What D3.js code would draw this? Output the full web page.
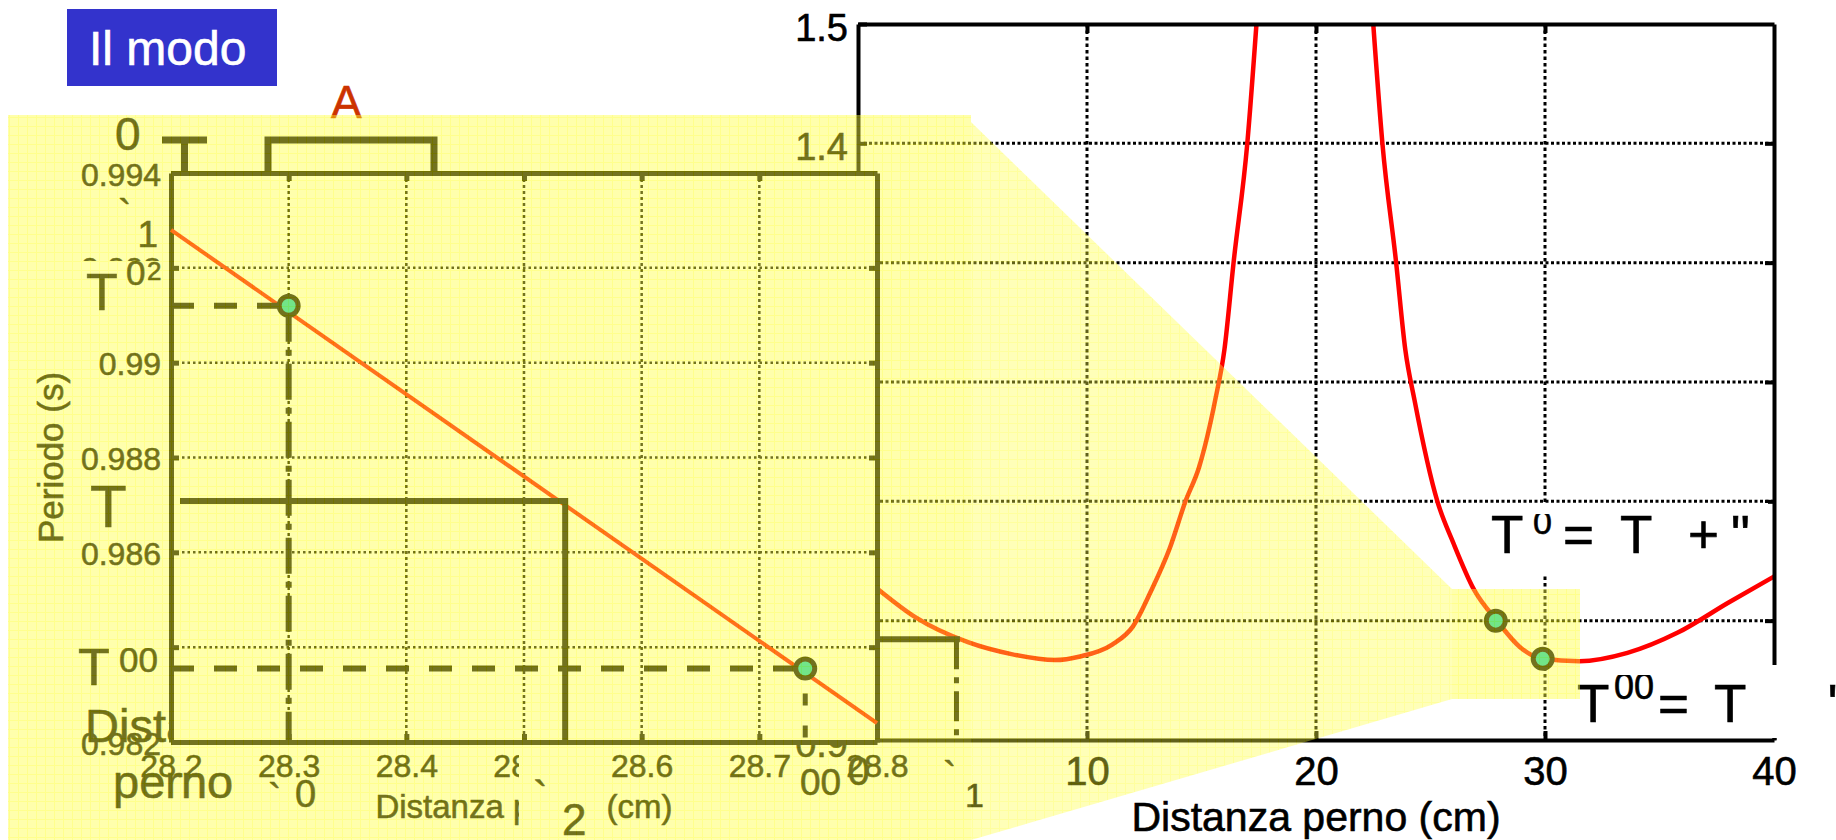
<!DOCTYPE html>
<html>
<head>
<meta charset="utf-8">
<script src="https://cdn.jsdelivr.net/npm/d3@7"></script>
<style>
  body { margin: 0; background: #fff; }
  svg { display: block; }
  text { font-family: "Liberation Sans", Arial, sans-serif; }
</style>
</head>
<body>
<div class="slide"></div>
<script>
// period of the pendulum vs pivot distance
var leftDist   = [0.9, 2.5, 4.8, 6.7, 8.6, 9.7, 11.1, 12.0, 12.8, 13.6, 14.3, 14.9, 15.6, 16.0, 16.4, 17.0, 17.4];
var leftPeriod = [1.026, 1.003, 0.982, 0.972, 0.967, 0.970, 0.980, 0.995, 1.025, 1.060, 1.100, 1.129, 1.185, 1.227, 1.300, 1.400, 1.500];
var rightDist   = [22.5, 22.9, 23.5, 23.9, 24.3, 25.3, 26.0, 26.9, 27.9, 28.9, 29.9, 31.5, 33.6, 35.8, 38.0, 40.0];
var rightPeriod = [1.500, 1.400, 1.300, 1.227, 1.185, 1.100, 1.065, 1.026, 1.000, 0.978, 0.968, 0.966, 0.973, 0.990, 1.015, 1.037];

var mainPointDist   = [27.85, 29.9];
var mainPointPeriod = [1.0, 0.968];
var ell1Dist = 4.3, ell1Period = 0.9845;

var mainXTicks = [0, 10, 20, 30, 40];
var mainYTicks = [0.9, 1.0, 1.1, 1.2, 1.3, 1.4, 1.5];

// zoomed inset
var insetXTicks = [28.2, 28.3, 28.4, 28.5, 28.6, 28.7, 28.8];
var insetYTicks = [0.982, 0.984, 0.986, 0.988, 0.99, 0.992, 0.994];
var insetLineDist   = [28.2, 28.8];
var insetLinePeriod = [0.9928, 0.9824];
var insetPointDist   = [28.3, 28.739];
var insetPointPeriod = [0.9912, 0.98355];
var levelDist = 28.535, levelPeriod = 0.98708;

var W = 1836, H = 840;
var INK = '#000', RED = '#ff0000', DOT = '#00d0c0';
var FONT = '"Liberation Sans", Arial, sans-serif';

var svg = d3.select('.slide').append('svg')
  .attr('width', W)
  .attr('height', H);
svg.append('rect').attr('width', W).attr('height', H).attr('fill', '#fff');

var defs = svg.append('defs');
var mesh = defs.append('pattern')
  .attr('id', 'mesh')
  .attr('patternUnits', 'userSpaceOnUse')
  .attr('width', 9).attr('height', 9);
mesh.append('rect').attr('width', 9).attr('height', 9).attr('fill', 'rgb(255,255,70)');
mesh.append('path').attr('d', 'M0,0.5H9M0.5,0V9')
  .attr('stroke', 'rgb(255,255,0)').attr('stroke-width', 1);

function clip(id, x, y, w, h) {
  defs.append('clipPath').attr('id', id)
    .append('rect').attr('x', x).attr('y', y).attr('width', w).attr('height', h);
  return 'url(#' + id + ')';
}

function label(g, x, y, s, size, anchor, color) {
  color = color || INK;
  return g.append('text')
    .attr('x', x).attr('y', y)
    .attr('font-size', size)
    .attr('text-anchor', anchor || 'start')
    .attr('fill', color)
    .attr('stroke', color).attr('stroke-width', 0.6)
    .text(s);
}

function box(g, x, y, w, h) {
  return g.append('rect').attr('x', x).attr('y', y)
    .attr('width', w).attr('height', h).attr('fill', '#fff');
}

function styleAxis(a, width) {
  a.select('.domain').attr('stroke', INK).attr('stroke-width', width);
  a.selectAll('.tick line').attr('stroke', INK).attr('stroke-width', width);
  a.selectAll('text').attr('fill', INK).attr('font-family', FONT)
    .attr('stroke', INK).attr('stroke-width', 0.6);
}

// title box
svg.append('rect').attr('x', 67).attr('y', 9).attr('width', 210).attr('height', 77).attr('fill', '#3333cc');
label(svg, 89, 65, 'Il modo', 48, 'start', '#fff');
label(svg, 331, 118, 'A', 46, 'start', '#cc3300');

/* ---------------- main chart ---------------- */
var x = d3.scaleLinear().domain([0, 40]).range([858, 1774]);
var y = d3.scaleLinear().domain([0.9, 1.5]).range([740, 24]);
var main = svg.append('g').attr('class', 'main');

main.selectAll('.hgrid').data(mainYTicks.slice(1, -1)).enter().append('line')
  .attr('x1', x(0)).attr('x2', x(40))
  .attr('y1', function(d) { return y(d); })
  .attr('y2', function(d) { return y(d); })
  .attr('stroke', INK).attr('stroke-width', 3).attr('stroke-dasharray', '3,2.5');
main.selectAll('.vgrid').data(mainXTicks.slice(1, -1)).enter().append('line')
  .attr('y1', y(1.5)).attr('y2', y(0.9))
  .attr('x1', function(d) { return x(d); })
  .attr('x2', function(d) { return x(d); })
  .attr('stroke', INK).attr('stroke-width', 3).attr('stroke-dasharray', '3.5,3');

var curve = d3.line()
  .x(function(d) { return x(d[0]); })
  .y(function(d) { return y(d[1]); })
  .curve(d3.curveMonotoneX);
[d3.zip(leftDist, leftPeriod), d3.zip(rightDist, rightPeriod)].forEach(function(branch) {
  main.append('path').attr('d', curve(branch))
    .attr('fill', 'none').attr('stroke', RED).attr('stroke-width', 4.5);
});

// level T'' reaching the left branch
main.append('line')
  .attr('x1', x(0)).attr('x2', x(ell1Dist + 0.15))
  .attr('y1', y(ell1Period)).attr('y2', y(ell1Period))
  .attr('stroke', INK).attr('stroke-width', 6);
main.append('line')
  .attr('x1', x(ell1Dist)).attr('x2', x(ell1Dist))
  .attr('y1', y(ell1Period)).attr('y2', y(0.9))
  .attr('stroke', INK).attr('stroke-width', 5).attr('stroke-dasharray', '30,8,6,8');

var axBottom = main.append('g').attr('transform', 'translate(0,' + y(0.9) + ')')
  .call(d3.axisBottom(x).tickValues(mainXTicks).tickSizeInner(-9).tickSizeOuter(0));
axBottom.selectAll('text').attr('y', 45).attr('dy', null).attr('font-size', 40);
var axLeft = main.append('g').attr('transform', 'translate(' + x(0) + ',0)')
  .call(d3.axisLeft(y).tickValues(mainYTicks).tickFormat(d3.format('~g')).tickSizeInner(-9).tickSizeOuter(0));
axLeft.selectAll('text').attr('x', -10).attr('dy', null).attr('y', 16).attr('font-size', 38);
var axTop = main.append('g').attr('transform', 'translate(0,' + y(1.5) + ')')
  .call(d3.axisTop(x).tickValues(mainXTicks.slice(1, -1)).tickFormat('').tickSizeInner(-9).tickSizeOuter(0));
var axRight = main.append('g').attr('transform', 'translate(' + x(40) + ',0)')
  .call(d3.axisRight(y).tickValues(mainYTicks.slice(1, -1)).tickFormat('').tickSizeInner(-9).tickSizeOuter(0));
[axBottom, axLeft, axTop, axRight].forEach(function(a) { styleAxis(a, 4); });

label(main, (x(0) + x(40)) / 2, 831, 'Distanza perno (cm)', 41, 'middle');

main.selectAll('.pt').data(d3.zip(mainPointDist, mainPointPeriod)).enter().append('circle')
  .attr('cx', function(d) { return x(d[0]); })
  .attr('cy', function(d) { return y(d[1]); })
  .attr('r', 9.5)
  .attr('fill', DOT).attr('stroke', INK).attr('stroke-width', 5);

label(main, 943, 790, '`', 40);
label(main, 965, 807, '1', 34);

// annotation T' = T + e
box(main, 1485, 503, 283, 72);
label(main, 1491, 553, 'T', 53);
label(main, 1533, 534, '0', 34).attr('clip-path', clip('c1', 1520, 514, 50, 40));
label(main, 1563, 553, '=', 53);
label(main, 1620, 553, 'T', 53);
label(main, 1688, 553, '+', 53);
label(main, 1731, 553, '"', 53);

// annotation T'' = T  e
box(main, 1558, 665, 278, 73);
label(main, 1577, 722, 'T', 53);
label(main, 1614, 699, '00', 36).attr('clip-path', clip('c2', 1600, 675, 70, 40));
label(main, 1658, 722, '=', 53);
label(main, 1714, 722, 'T', 53);
label(main, 1828, 722, '"', 53);

/* ---------------- zoomed inset ---------------- */
var ix = d3.scaleLinear().domain([28.2, 28.8]).range([171, 877]);
var iy = d3.scaleLinear().domain([0.982, 0.994]).range([742, 173]);
var inset = svg.append('g').attr('class', 'inset');

label(inset, 85, 742, 'Distanza', 47);
label(inset, 113, 798, 'perno', 47);

inset.append('rect').attr('x', ix(28.2)).attr('y', iy(0.994))
  .attr('width', ix(28.8) - ix(28.2)).attr('height', iy(0.982) - iy(0.994))
  .attr('fill', '#fff');

inset.selectAll('.hgrid').data(insetYTicks.slice(1, -1)).enter().append('line')
  .attr('x1', ix(28.2)).attr('x2', ix(28.8))
  .attr('y1', function(d) { return iy(d); })
  .attr('y2', function(d) { return iy(d); })
  .attr('stroke', INK).attr('stroke-width', 2.5).attr('stroke-dasharray', '2.5,3');
inset.selectAll('.vgrid').data(insetXTicks.slice(1, -1)).enter().append('line')
  .attr('y1', iy(0.994)).attr('y2', iy(0.982))
  .attr('x1', function(d) { return ix(d); })
  .attr('x2', function(d) { return ix(d); })
  .attr('stroke', INK).attr('stroke-width', 2.5).attr('stroke-dasharray', '3,3');

var iBottom = inset.append('g').attr('transform', 'translate(0,' + iy(0.982) + ')')
  .call(d3.axisBottom(ix).tickValues(insetXTicks).tickFormat(d3.format('.1f')).tickSizeInner(-8).tickSizeOuter(0));
iBottom.selectAll('text').attr('y', 35).attr('dy', null).attr('font-size', 32);
var iLeft = inset.append('g').attr('transform', 'translate(' + ix(28.2) + ',0)')
  .call(d3.axisLeft(iy).tickValues(insetYTicks).tickFormat(d3.format('~g')).tickSizeInner(-8).tickSizeOuter(0));
iLeft.selectAll('text').attr('x', -10).attr('y', 12).attr('dy', null).attr('font-size', 32);
var iTop = inset.append('g').attr('transform', 'translate(0,' + iy(0.994) + ')')
  .call(d3.axisTop(ix).tickValues(insetXTicks.slice(1, -1)).tickFormat('').tickSizeInner(-8).tickSizeOuter(0));
var iRight = inset.append('g').attr('transform', 'translate(' + ix(28.8) + ',0)')
  .call(d3.axisRight(iy).tickValues(insetYTicks.slice(1, -1)).tickFormat('').tickSizeInner(-8).tickSizeOuter(0));
[iBottom, iLeft, iTop, iRight].forEach(function(a) { styleAxis(a, 5); });

label(inset, (ix(28.2) + ix(28.8)) / 2, 818, 'Distanza perno (cm)', 33, 'middle');
inset.append('text')
  .attr('transform', 'translate(63,' + (iy(0.982) + iy(0.994)) / 2 + ') rotate(-90)')
  .attr('text-anchor', 'middle').attr('font-size', 35)
  .attr('fill', INK).attr('stroke', INK).attr('stroke-width', 0.6)
  .text('Periodo (s)');

var iline = d3.line()
  .x(function(d) { return ix(d[0]); })
  .y(function(d) { return iy(d[1]); });
inset.append('path').attr('d', iline(d3.zip(insetLineDist, insetLinePeriod)))
  .attr('fill', 'none').attr('stroke', RED).attr('stroke-width', 4);

// T' and T'' read back on the axes
inset.append('line')
  .attr('x1', ix(28.2)).attr('x2', ix(insetPointDist[0]))
  .attr('y1', iy(insetPointPeriod[0])).attr('y2', iy(insetPointPeriod[0]))
  .attr('stroke', INK).attr('stroke-width', 6).attr('stroke-dasharray', '23,20');
inset.append('line')
  .attr('x1', ix(28.2)).attr('x2', ix(insetPointDist[1]))
  .attr('y1', iy(insetPointPeriod[1])).attr('y2', iy(insetPointPeriod[1]))
  .attr('stroke', INK).attr('stroke-width', 6).attr('stroke-dasharray', '23,20');
inset.append('line')
  .attr('x1', ix(insetPointDist[0])).attr('x2', ix(insetPointDist[0]))
  .attr('y1', iy(insetPointPeriod[0])).attr('y2', iy(0.982))
  .attr('stroke', INK).attr('stroke-width', 6).attr('stroke-dasharray', '36,8,6,8');
inset.append('line')
  .attr('x1', ix(insetPointDist[1])).attr('x2', ix(insetPointDist[1]))
  .attr('y1', iy(insetPointPeriod[1]) + 25).attr('y2', iy(0.982))
  .attr('stroke', INK).attr('stroke-width', 5).attr('stroke-dasharray', '12,20');

// level T and its pivot distance
inset.append('path')
  .attr('d', 'M' + (ix(28.2) + 9) + ',' + iy(levelPeriod) + 'H' + ix(levelDist) + 'V' + iy(0.982))
  .attr('fill', 'none').attr('stroke', INK).attr('stroke-width', 6);

inset.selectAll('.pt').data(d3.zip(insetPointDist, insetPointPeriod)).enter().append('circle')
  .attr('cx', function(d) { return ix(d[0]); })
  .attr('cy', function(d) { return iy(d[1]); })
  .attr('r', 9.5)
  .attr('fill', DOT).attr('stroke', INK).attr('stroke-width', 5);

// broken equation fragments around the inset
inset.append('path').attr('d', 'M162,140H207M184.5,140V173M268,173V140H434V173')
  .attr('fill', 'none').attr('stroke', INK).attr('stroke-width', 7);
label(inset, 115, 150, '0', 46);
label(inset, 118, 228, '`', 40);
label(inset, 158, 247, '1', 37, 'end');
box(inset, 74, 261, 94, 52);
label(inset, 86, 310, 'T', 52);
label(inset, 126, 285, '0', 35).attr('clip-path', clip('c3', 120, 261, 30, 30));
label(inset, 147, 280, '2', 26);
label(inset, 90, 527, 'T', 60);
box(inset, 70, 636, 98, 66);
label(inset, 78, 685, 'T', 52);
label(inset, 119, 672, '00', 35).attr('clip-path', clip('c4', 110, 648, 60, 30));
label(inset, 268, 812, '`', 40);
label(inset, 295, 807, '0', 38);
label(inset, 800, 795, '00', 37).attr('clip-path', clip('c5', 790, 765, 80, 40));
box(inset, 519, 746, 88, 94);
label(inset, 533, 812, '`', 44);
label(inset, 562, 835, '2', 44);

/* ---------------- yellow zoom overlay ---------------- */
var overlay = svg.append('g').attr('class', 'overlay').attr('opacity', 0.45);
overlay.append('rect').attr('x', 8).attr('y', 115).attr('width', 963).attr('height', 725)
  .attr('fill', 'url(#mesh)');
overlay.append('polygon').attr('points', '971,122 1452,589 1452,699 971,840')
  .attr('fill', 'url(#mesh)').attr('opacity', 0.85);
overlay.append('rect').attr('x', 1452).attr('y', 589).attr('width', 128).attr('height', 110)
  .attr('fill', 'url(#mesh)');
</script>
</body>
</html>
